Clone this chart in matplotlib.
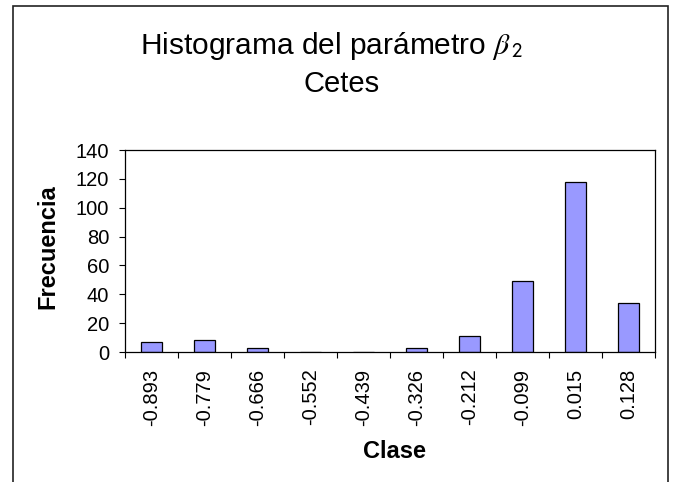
import matplotlib
matplotlib.use("Agg")
import matplotlib.pyplot as plt
from matplotlib.patches import Rectangle

plt.rcParams['font.family'] = ['Liberation Sans', 'DejaVu Sans']
plt.rcParams['mathtext.fontset'] = 'stix'

clases = ["-0.893", "-0.779", "-0.666", "-0.552", "-0.439",
          "-0.326", "-0.212", "-0.099", "0.015", "0.128"]
frecuencia = [7, 8, 3, 0, 0, 3, 11, 49, 118, 34]
yticks = [0, 20, 40, 60, 80, 100, 120, 140]

W, H = 673, 482
fig = plt.figure(figsize=(W / 100, H / 100), dpi=100)
fig.patch.set_facecolor('white')

# outer chart border
fig.patches.append(Rectangle((12.7 / W, -0.05), (667.7 - 12.7) / W, 1.05 - 5.7 / H,
                             transform=fig.transFigure, fill=False,
                             edgecolor='#222222', linewidth=1.2))

ax = fig.add_axes([125 / W, 1 - 352 / H, (655 - 125) / W, (352 - 150) / H])
x = list(range(len(clases)))
ax.bar(x, frecuencia, width=0.4, color='#9999FF', edgecolor='black', linewidth=0.9)

ax.set_xlim(-0.5, len(clases) - 0.5)
ax.set_ylim(0, 140)
ax.set_yticks(yticks)
ax.set_yticklabels([str(v) for v in yticks])
ax.tick_params(axis='y', direction='out', length=4.3, width=0.8, pad=7.0, labelsize=14.5)

ax.set_xticks([i - 0.5 for i in range(len(clases) + 1)])
ax.set_xticklabels([])
ax.tick_params(axis='x', which='major', direction='out', length=4.3, width=0.8)
ax.set_xticks(x, minor=True)
ax.set_xticklabels(clases, minor=True, rotation=90, fontsize=14.5)
ax.tick_params(axis='x', which='minor', length=0, pad=12)

for s in ax.spines.values():
    s.set_linewidth(0.9)
    s.set_color('black')

fig.text(332 / W, 1 - 54 / H, r"Histograma del parámetro $\mathit{\beta}_{\,\mathsf{2}}$",
         ha='center', va='baseline', fontsize=21.5)
fig.text(342 / W, 1 - 92 / H, "Cetes", ha='center', va='baseline', fontsize=21)

fig.text(48 / W, 1 - 247 / H, "Frecuencia", rotation=90, ha='center', va='center',
         fontsize=17, fontweight='bold')
fig.text(395 / W, 1 - 452 / H, "Clase", ha='center', va='center',
         fontsize=17, fontweight='bold')

fig.savefig("out.png", dpi=100, facecolor='white')
